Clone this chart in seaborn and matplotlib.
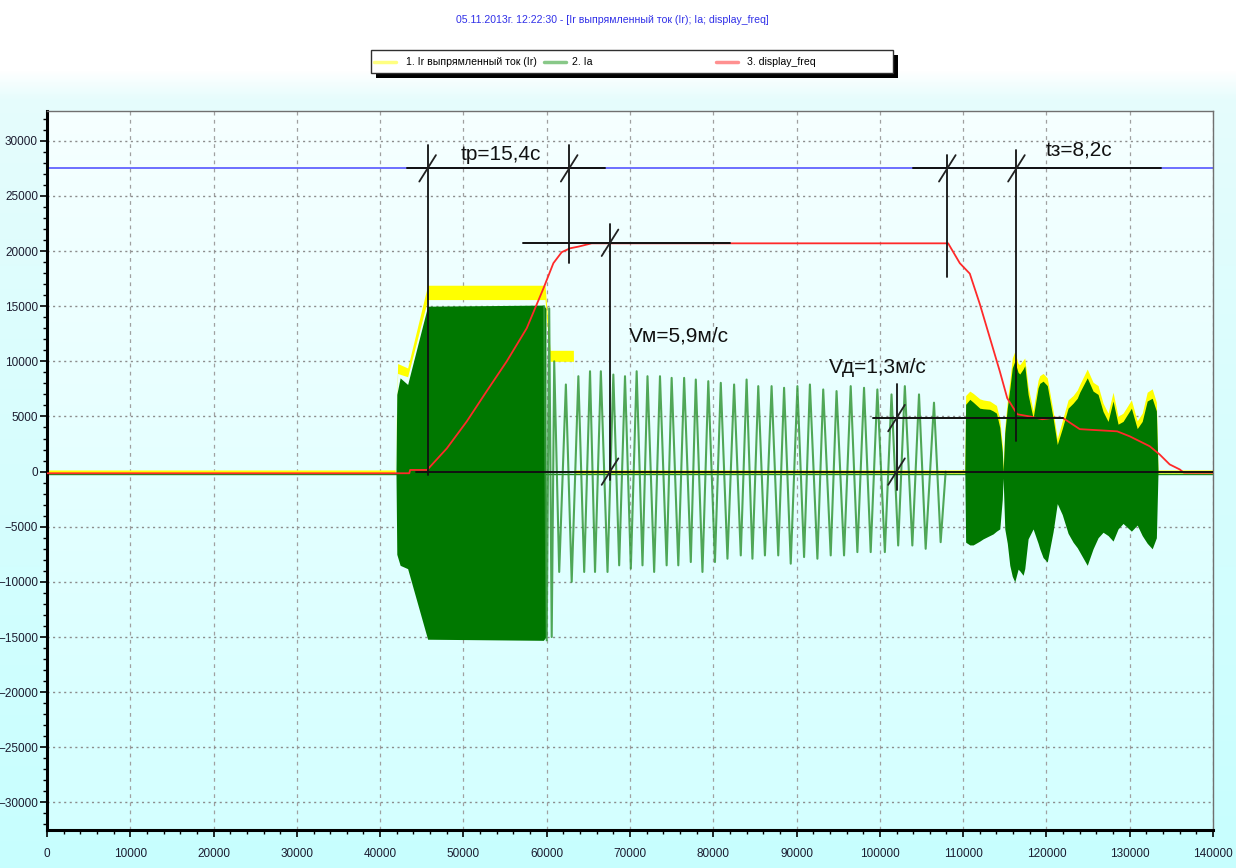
import numpy as np
import seaborn as sns
import matplotlib.pyplot as plt
from matplotlib.patches import Rectangle
from matplotlib.lines import Line2D
from matplotlib.ticker import MultipleLocator

# ---- values ----
title = '05.11.2013г. 12:22:30 - [Ir выпрямленный ток (Ir); Ia; display_freq]'
legend_labels = ['1. Ir выпрямленный ток (Ir)', '2. Ia', '3. display_freq']

# Ir (rectified current) - noisy band low/high
ir_t = [0, 41800, 42100, 43300, 45700, 59800, 60400, 63200, 63300, 140000]
ir_lo = [-150, -150, 8900, 8600, 15600, 15600, 10000, 10000, -150, -150]
ir_hi = [150, 150, 9800, 9400, 16900, 16900, 11000, 11000, 150, 150]

# Ia - first dense burst (envelope)
blk1_t = [41900, 42000, 42400, 43300, 45700, 59600, 59900]
blk1_hi = [0, 7000, 8500, 7900, 15000, 15100, 14800]
blk1_lo = [0, -7500, -8500, -8800, -15200, -15300, -15000]

# Ia - visible oscillation, alternating peaks / troughs
osc_t = [59700, 60000, 60300, 60600, 60900, 61500, 62300, 63000, 63800, 64500,
         65200, 65800, 66500, 67300, 68000, 68700, 69400, 70100, 70800, 71500,
         72100, 72900, 73600, 74400, 75000, 75800, 76500, 77300, 77900, 78700,
         79400, 80200, 80900, 81700, 82500, 83300, 84000, 84700, 85400, 86200,
         87000, 87800, 88500, 89300, 90100, 90900, 91600, 92500, 93200, 94100,
         94800, 95700, 96500, 97300, 98100, 98900, 99700, 100600, 101400, 102200,
         103000, 103900, 104700, 105500, 106500, 107300, 107900]
osc_v = [15000, -15300, 14800, -15000, 10000, -9100, 7900, -10000, 8650, -9100,
         9100, -9100, 9100, -9100, 8800, -8500, 8650, -8800, 9100, -8500,
         8650, -9100, 8650, -8500, 8500, -8500, 8500, -8200, 8350, -9100,
         8200, -8200, 8050, -7900, 7900, -7600, 8350, -7900, 7750, -7600,
         7750, -7600, 7600, -8350, 7750, -7750, 7900, -7900, 7450, -7600,
         7300, -7600, 7750, -7300, 7600, -7300, 7450, -7300, 7000, -6700,
         7750, -6700, 7000, -7000, 6250, -6400, 0]

# second dense burst: Ia envelope and Ir top
blk2_t = [110200, 110300, 110800, 111200, 112000, 112400, 113200, 113600, 114000, 114400,
          114700, 114800, 115000, 115300, 115600, 115900, 116200, 116600, 116800, 117200,
          117400, 117800, 118400, 119000, 119200, 119600, 120100, 120800, 121300, 121900,
          122600, 123200, 123700, 124000, 124900, 125600, 126200, 126800, 127400, 128000,
          128600, 129200, 130200, 130900, 131500, 132100, 132700, 133200, 133400]
blk2_hi = [0, 6100, 6550, 6300, 5750, 5700, 5650, 5500, 5300, 4000,
           1800, 0, 3500, 5750, 7500, 9400, 10000, 9000, 8850, 9300,
           9600, 7000, 4850, 7600, 8000, 8200, 7800, 4850, 2450, 3900,
           5750, 6200, 6650, 7200, 8500, 7300, 7000, 5450, 4550, 6400,
           4300, 4550, 5750, 3900, 4550, 6400, 6650, 5500, 0]
blk2_lo = [0, -6400, -6650, -6650, -6300, -6100, -5800, -5650, -5400, -5200,
           -2500, -600, -5200, -6500, -8500, -9500, -10000, -8850, -9000, -9400,
           -8800, -6100, -5200, -6500, -7000, -7800, -8200, -5450, -2900, -3900,
           -5600, -6400, -6900, -7300, -8500, -7000, -6000, -5500, -5800, -6300,
           -5200, -4700, -5400, -4850, -5800, -6500, -7000, -6000, 0]
blk2_ir = [0, 6900, 7300, 7100, 6600, 6500, 6400, 6200, 6000, 4700,
           2400, 300, 4000, 6400, 8200, 10300, 10900, 9800, 9700, 10100,
           10300, 7700, 5500, 8300, 8700, 8900, 8500, 5500, 3000, 4600,
           6500, 6900, 7400, 7900, 9300, 8100, 7800, 6200, 5300, 7200,
           5000, 5300, 6500, 4600, 5300, 7200, 7500, 6300, 0]

# Ia baseline
ia_base_t = [0, 140000]
ia_base_v = [-200, -200]

# display_freq
disp_t = [0, 43500, 43600, 45600, 45700, 48000, 50400, 52800, 55200, 57600,
          59600, 60800, 61800, 62800, 63800, 65400, 108200, 109600, 110800, 112000,
          113200, 114400, 115300, 116500, 118000, 119500, 121000, 122000, 124000, 128500,
          130000, 132400, 133600, 134800, 136000, 136500, 140000]
disp_v = [-150, -150, 150, 150, 200, 2100, 4550, 7300, 10000, 13000,
          16600, 18900, 19900, 20250, 20400, 20700, 20700, 18900, 17950, 15200,
          12150, 9100, 6650, 5200, 5000, 4750, 4900, 4850, 3850, 3650,
          3200, 2300, 1550, 650, 200, -100, -100]

# reference level (blue)
ref_t = [0, 140000]
ref_v = [27500, 27500]

# hand-drawn dimension lines and notes
dim_h = [(43200, 67000, 27500), (57200, 82000, 20750), (104000, 133800, 27500),
         (99200, 122000, 4850), (44300, 140000, 0)]
dim_v = [(45700, -300, 29650), (62700, 18900, 29650), (67600, -750, 22450),
         (102000, -1650, 7900), (108100, 17650, 28700), (116400, 2750, 29200)]
dim_ticks = [(45700, 27500), (62700, 27500), (67600, 20750), (67600, 0),
             (102000, 4850), (102000, 0), (108100, 27500), (116400, 27500)]
notes = [('tр=15,4с', 49700, 28300), ('Vм=5,9м/с', 69900, 11800),
         ('Vд=1,3м/с', 93900, 8970), ('tз=8,2с', 119900, 28700)]

# ---- figure ----
W, H = 1236, 868
sns.set_theme(style='white')
plt.rcParams['font.family'] = ['Liberation Sans Narrow', 'Liberation Sans', 'DejaVu Sans']

fig = plt.figure(figsize=(W / 100, H / 100), dpi=100)

# background: white header fading into pale cyan, lighter panel behind the plot
L, R, T, B = 47, 1213, 111, 830
rows = np.arange(H)
bg = np.empty((H, W, 3))
for c, (v0, v1, v2) in enumerate([(1.0, 0.90, 0.78), (1.0, 0.99, 1.0), (1.0, 0.99, 1.0)]):
    bg[:, :, c] = np.interp(rows, [0, 70, 100, H], [1.0, v0, v1, v2])[:, None]
for c, (p0, p1) in enumerate([(0.965, 0.83), (1.0, 1.0), (1.0, 1.0)]):
    bg[T:B, L:R, c] = np.linspace(p0, p1, B - T)[:, None]
bgax = fig.add_axes([0, 0, 1, 1])
bgax.imshow(bg, aspect='auto', interpolation='bilinear')
bgax.axis('off')

ax = fig.add_axes([L / W, 1 - B / H, (R - L) / W, (B - T) / H])
ax.set_facecolor('none')

# Ir
ax.fill_between(ir_t, ir_lo, ir_hi, color='#ffff00', lw=0, zorder=2)
ax.fill_between(blk2_t, 0, blk2_ir, color='#ffff00', lw=0, zorder=2)
# Ia
sns.lineplot(x=ia_base_t, y=ia_base_v, ax=ax, color='#1f8a1f', lw=1, sort=False, estimator=None, zorder=2)
ax.fill_between(blk1_t, blk1_lo, blk1_hi, color='#007800', lw=0, zorder=3)
ax.fill_between(blk2_t, blk2_lo, blk2_hi, color='#007800', lw=0, zorder=3)
sns.lineplot(x=osc_t, y=osc_v, ax=ax, color='#35983a', lw=1.5, alpha=0.85,
             sort=False, estimator=None, zorder=3)
# reference and display_freq
sns.lineplot(x=ref_t, y=ref_v, ax=ax, color='#4848ff', lw=1.1, sort=False, estimator=None, zorder=2)
sns.lineplot(x=disp_t, y=disp_v, ax=ax, color='#ff2a2a', lw=1.3, sort=False, estimator=None, zorder=4)

# dimension lines
for x0, x1, y in dim_h:
    ax.plot([x0, x1], [y, y], color='#111111', lw=1.4, zorder=5)
for x, y0, y1 in dim_v:
    ax.plot([x, x], [y0, y1], color='#111111', lw=1.3, zorder=5)
for x, y in dim_ticks:
    ax.plot([x - 1000, x + 1000], [y - 1200, y + 1200], color='#222222', lw=1.3, zorder=5)
for txt, x, y in notes:
    ax.text(x, y, txt, fontsize=15, color='#111111', va='baseline', ha='left', zorder=6)

ax.set_xlim(0, 140000)
ax.set_ylim(-32500, 32700)
ax.xaxis.set_major_locator(MultipleLocator(10000))
ax.xaxis.set_minor_locator(MultipleLocator(2000))
ax.yaxis.set_major_locator(MultipleLocator(5000))
ax.yaxis.set_minor_locator(MultipleLocator(1000))
ax.set_axisbelow(True)
ax.grid(True, which='major', axis='y', color='#8c8c8c', ls=(0, (1.5, 2.5)), lw=1)
ax.grid(True, which='major', axis='x', color='#a0a0a0', ls=(0, (3, 3.5)), lw=0.9)
ax.tick_params(which='both', bottom=True, left=True, direction='out', color='black')
ax.tick_params(which='major', length=5, width=1.2, labelsize=8.5, labelcolor='#1c1c30')
ax.tick_params(axis='y', which='major', pad=1.5)
ax.tick_params(axis='x', which='major', pad=8)
ax.tick_params(which='minor', length=3, width=1)
ax.set_xlabel('')
ax.set_ylabel('')
for side in ['left', 'bottom']:
    ax.spines[side].set_color('black')
    ax.spines[side].set_linewidth(2.2)
for side in ['top', 'right']:
    ax.spines[side].set_color('#707070')
    ax.spines[side].set_linewidth(1)

# title
fig.text(612 / W, 1 - 20 / H, title, ha='center', va='center', color='#3030e8', fontsize=7.6)

# legend box drawn by hand (uneven column spacing)
def px(x, y):
    return x / W, 1 - y / H

bx0, by0, bx1, by1 = 371, 50, 893, 73
fig.add_artist(Rectangle(px(bx0 + 5, by1 + 5), (bx1 - bx0) / W, (by1 - by0) / H,
                         transform=fig.transFigure, color='black', lw=0, zorder=8))
fig.add_artist(Rectangle(px(bx0, by1), (bx1 - bx0) / W, (by1 - by0) / H,
                         transform=fig.transFigure, facecolor='white', edgecolor='#303030',
                         lw=1, zorder=9))
leg_colors = ['#ffff80', '#88c888', '#ff9090']
leg_lines = [(374, 396), (544, 566), (716, 738)]
leg_text_x = [406, 572, 747]
ly = 62
for col, (a, b), tx, lab in zip(leg_colors, leg_lines, leg_text_x, legend_labels):
    fig.add_artist(Line2D([a / W, b / W], [1 - ly / H, 1 - ly / H], transform=fig.transFigure,
                          color=col, lw=2.5, zorder=10))
    fig.text(tx / W, 1 - ly / H, lab, ha='left', va='center', fontsize=7.6, color='black', zorder=10)

fig.savefig('out.png', dpi=100)
